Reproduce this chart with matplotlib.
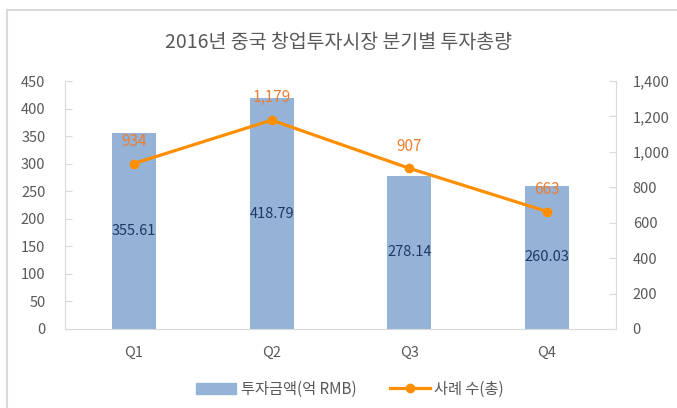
import matplotlib
matplotlib.use('Agg')
import matplotlib.pyplot as plt
from matplotlib.patches import Rectangle
from matplotlib.lines import Line2D
from matplotlib.ticker import FuncFormatter

plt.rcParams['font.family'] = ['Noto Sans CJK KR', 'DejaVu Sans']

# data
quarters = ['Q1', 'Q2', 'Q3', 'Q4']
amount = [355.61, 418.79, 278.14, 260.03]   # 투자금액(억 RMB)
cases = [934, 1179, 907, 663]                # 사례 수(총)

title = '2016년 중국 창업투자시장 분기별 투자총량'
bar_name = '투자금액(억 RMB)'
line_name = '사례 수(총)'

bar_col = '#95B3D7'
line_col = '#FF8F00'
lab_orange = '#ED7D31'
lab_navy = '#1F3864'
txt_gray = '#595959'
axis_gray = '#D9D9D9'

fig = plt.figure(figsize=(6.77, 4.08), dpi=100)
ax = fig.add_axes([65/677, 1-329/408, (616-65)/677, (329-81)/408])
ax2 = ax.twinx()

x = range(len(quarters))
bars = ax.bar(x, amount, width=0.32, color=bar_col, zorder=2)
for xi, v in zip(x, amount):
    ax.text(xi, v/2, f'{v:.2f}', ha='center', va='center', color=lab_navy, fontsize=10.5)

ax2.plot(x, cases, color=line_col, lw=2.3, marker='o', ms=6, zorder=3)
for xi, v in zip(x, cases):
    ax2.annotate(f'{v:,}', (xi, v), xytext=(0, 16), textcoords='offset points',
                 ha='center', va='center', color=lab_orange, fontsize=11)

ax.set_xlim(-0.5, 3.5)
ax.set_ylim(0, 450)
ax.set_yticks(range(0, 451, 50))
ax2.set_ylim(0, 1400)
ax2.set_yticks(range(0, 1401, 200))
ax2.yaxis.set_major_formatter(FuncFormatter(lambda v, p: f'{int(v):,}'))
ax.set_xticks(list(x))
ax.set_xticklabels(quarters)

for a in (ax, ax2):
    for s in a.spines.values():
        s.set_color(axis_gray)
    a.spines['top'].set_visible(False)
ax.spines['right'].set_visible(False)
ax2.spines['left'].set_visible(False)
ax2.spines['bottom'].set_visible(False)

ax.tick_params(axis='y', direction='in', length=5, color=axis_gray, pad=14,
               labelcolor=txt_gray, labelsize=10.5)
ax.tick_params(axis='x', length=0, pad=12, labelcolor=txt_gray, labelsize=10.5)
ax2.tick_params(axis='y', direction='in', length=5, color=axis_gray, pad=12,
                labelcolor=txt_gray, labelsize=10.5)

fig.text(0.5, 1-43/408, title, ha='center', va='center', color=txt_gray, fontsize=14)

handles = [Rectangle((0, 0), 1, 1, color=bar_col),
           Line2D([0], [0], color=line_col, lw=2.3, marker='o', ms=6)]
fig.legend(handles, [bar_name, line_name], loc='center', bbox_to_anchor=(350/677, 1-389/408),
           ncol=2, frameon=False, fontsize=11, labelcolor=txt_gray,
           handlelength=2.6, handletextpad=0.3, columnspacing=2.2)

fig.patches.append(Rectangle((7/677, -0.2), 1.2, 1.2 - 10/408, transform=fig.transFigure,
                             fill=False, edgecolor=axis_gray, lw=1.5))

fig.savefig('out.png', dpi=100)
